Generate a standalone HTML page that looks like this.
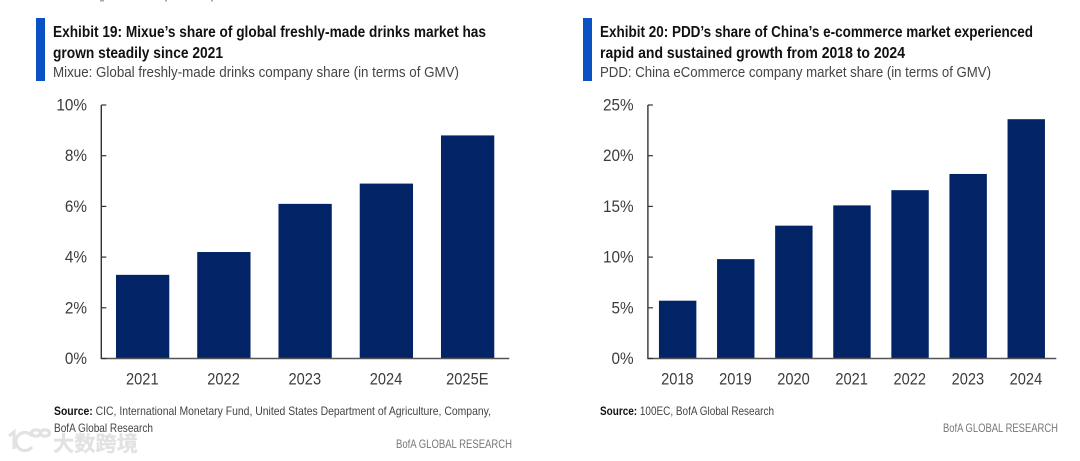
<!DOCTYPE html>
<html lang="en">
<head>
<meta charset="utf-8">
<title>Exhibits 19 and 20</title>
<style>
html,body{margin:0;padding:0;background:#fff;width:1080px;height:461px;overflow:hidden}
svg{display:block}
text{font-family:"Liberation Sans","Noto Sans CJK SC",sans-serif}
.title{font-size:15.5px;font-weight:700;fill:#111}
.sub{font-size:15px;fill:#444}
.tick{font-size:17px;fill:#3c3c3c}
.src{font-size:12px;fill:#444}
.brand{font-size:12px;fill:#777}
</style>
</head>
<body>
<svg id="page" width="1080" height="461" viewBox="0 0 1080 461" xmlns="http://www.w3.org/2000/svg">
  <g fill="#aaa">
    <rect x="100" y="0" width="4" height="1.5"/>
    <rect x="165" y="0" width="2" height="1.5"/>
    <rect x="211" y="0" width="2" height="1.5"/>
  </g>
  <g>
    <rect x="36" y="18" width="9" height="63" fill="#0a52c4"/>
    <text class="title" x="53" y="37" textLength="433" lengthAdjust="spacingAndGlyphs">Exhibit 19: Mixue’s share of global freshly-made drinks market has</text>
    <text class="title" x="53" y="58" textLength="170" lengthAdjust="spacingAndGlyphs">grown steadily since 2021</text>
    <text class="sub" x="53" y="77" textLength="406" lengthAdjust="spacingAndGlyphs">Mixue: Global freshly-made drinks company share (in terms of GMV)</text>
  </g>
  <g>
    <rect x="583" y="18" width="9" height="63" fill="#0a52c4"/>
    <text class="title" x="600" y="37" textLength="433" lengthAdjust="spacingAndGlyphs">Exhibit 20: PDD’s share of China’s e-commerce market experienced</text>
    <text class="title" x="600" y="58" textLength="305" lengthAdjust="spacingAndGlyphs">rapid and sustained growth from 2018 to 2024</text>
    <text class="sub" x="600" y="77" textLength="391" lengthAdjust="spacingAndGlyphs">PDD: China eCommerce company market share (in terms of GMV)</text>
  </g>
  <g id="chart-19"></g>
  <g id="chart-20"></g>
  <g>
    <g fill="none" stroke="#e2e2e2" stroke-width="3.2">
      <path d="M9 436 L14 432 V449"/>
      <path d="M32 436 A9 9 0 1 0 32 447"/>
      <ellipse cx="36" cy="433" rx="4.5" ry="3.2"/>
      <ellipse cx="45" cy="433" rx="4.5" ry="3.2"/>
    </g>
    <text x="53" y="451" font-size="21" font-weight="700" fill="#e2e2e2" stroke="#e2e2e2" stroke-width="0.3" textLength="85" lengthAdjust="spacingAndGlyphs">大数跨境</text>
  </g>
  <g>
    <text class="src" x="54" y="415" textLength="437" lengthAdjust="spacingAndGlyphs"><tspan font-weight="700" fill="#111">Source:</tspan> CIC, International Monetary Fund, United States Department of Agriculture, Company,</text>
    <text class="src" x="54" y="432" textLength="99" lengthAdjust="spacingAndGlyphs">BofA Global Research</text>
    <text class="brand" x="396" y="448" textLength="116" lengthAdjust="spacingAndGlyphs">BofA GLOBAL RESEARCH</text>
  </g>
  <g>
    <text class="src" x="600" y="415" textLength="174" lengthAdjust="spacingAndGlyphs"><tspan font-weight="700" fill="#111">Source:</tspan> 100EC, BofA Global Research</text>
    <text class="brand" x="943" y="432" textLength="115" lengthAdjust="spacingAndGlyphs">BofA GLOBAL RESEARCH</text>
  </g>
</svg>
<script>
var categories19 = ['2021', '2022', '2023', '2024', '2025E'];
var shares19 = [3.3, 4.2, 6.1, 6.9, 8.8];
var ticks19 = [0, 2, 4, 6, 8, 10];

var categories20 = ['2018', '2019', '2020', '2021', '2022', '2023', '2024'];
var shares20 = [5.7, 9.8, 13.1, 15.1, 16.6, 18.2, 23.6];
var ticks20 = [0, 5, 10, 15, 20, 25];

var NS = 'http://www.w3.org/2000/svg';

function make(parent, tag, attrs) {
  var el = document.createElementNS(NS, tag);
  Object.keys(attrs).forEach(function (k) { el.setAttribute(k, attrs[k]); });
  parent.appendChild(el);
  return el;
}

function squeeze(label, ratio) {
  label.setAttribute('textLength', label.getComputedTextLength() * ratio);
  label.setAttribute('lengthAdjust', 'spacingAndGlyphs');
}

function drawChart(root, cats, vals, ticks, box) {
  var maxT = ticks[ticks.length - 1];
  function y(v) { return box.bottom - (v / maxT) * (box.bottom - box.top); }
  var band = (box.right - box.left) / cats.length;
  function x(i) { return box.left + band * i; }
  var barW = band * box.barRatio;
  var axisX0 = box.left - 0.7;

  vals.forEach(function (v, i) {
    var bar = make(root, 'rect', {
      x: x(i) + (band - barW) / 2, y: y(v), width: barW, height: y(0) - y(v), fill: '#022366'
    });
    
    
    var label = make(root, 'text', {
      x: x(i) + band / 2 - 0.3, y: box.bottom + 26, 'text-anchor': 'middle', 'class': 'tick'
    });
    label.textContent = cats[i];
    squeeze(label, 0.86);
    
    
  });

  var axisY = make(root, 'line', {
    x1: axisX0, x2: axisX0, y1: y(maxT), y2: box.bottom, stroke: '#333', 'stroke-width': 1.4
  });
  
  

  var axisX = make(root, 'line', {
    x1: axisX0 - 0.7, x2: box.right + 1, y1: box.bottom, y2: box.bottom, stroke: '#555', 'stroke-width': 1.4
  });
  
  

  ticks.forEach(function (t) {
    var mark = make(root, 'line', {
      x1: axisX0, x2: axisX0 + 5, y1: y(t), y2: y(t), stroke: '#333', 'stroke-width': 1.2
    });
    
    
    var label = make(root, 'text', {
      x: box.left - 15, y: y(t) + 5.5, 'text-anchor': 'end', 'class': 'tick'
    });
    label.textContent = t + '%';
    squeeze(label, 0.9);
    
    
  });
}

drawChart(document.getElementById('chart-19'), categories19, shares19, ticks19,
  { left: 102, right: 508.25, top: 105, bottom: 358.5, barRatio: 0.656 });
drawChart(document.getElementById('chart-20'), categories20, shares20, ticks20,
  { left: 648.6, right: 1055.3, top: 105, bottom: 358.5, barRatio: 0.644 });
</script>
</body>
</html>
